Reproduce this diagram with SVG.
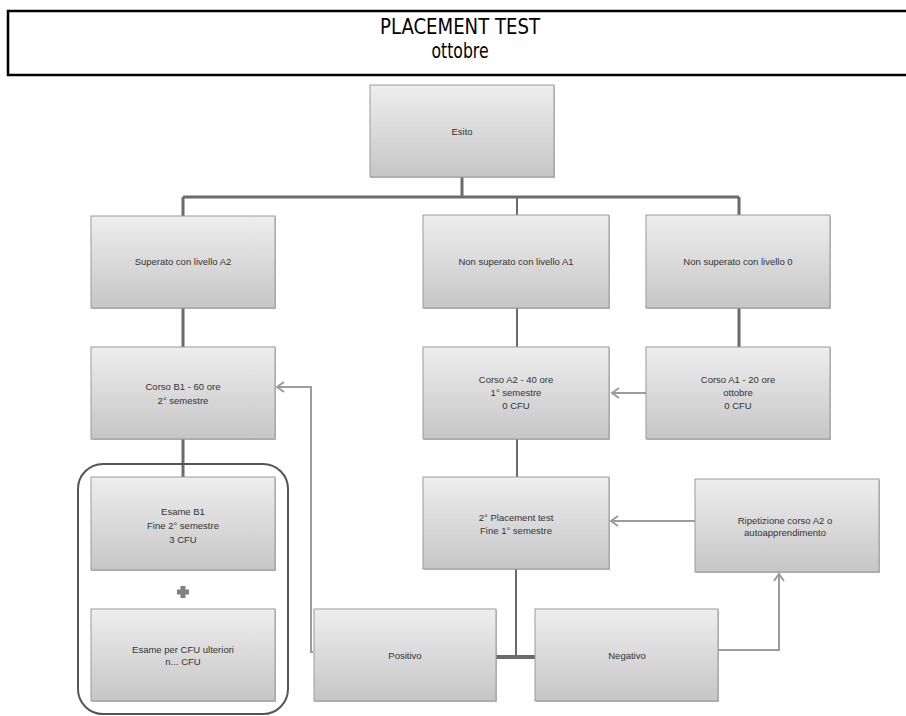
<svg xmlns="http://www.w3.org/2000/svg" width="906" height="716" viewBox="0 0 906 716">
<style>
.box{fill:url(#g);stroke:#9a9a9a;stroke-width:1}
.sh{fill:#8a8a8a;opacity:0.55}
.t{font-family:"Liberation Sans",Arial,sans-serif;font-size:9.5px;fill:#333;text-anchor:middle}
.title{font-family:"DejaVu Sans","Liberation Sans",sans-serif;font-size:21px;fill:#000;text-anchor:middle}
.tree{stroke:#6b6b6b;fill:none}
.arr{stroke:#9c9c9c;stroke-width:2;fill:none;marker-end:url(#ah)}
</style>
<defs>
<linearGradient id="g" x1="0" y1="0" x2="0" y2="1">
<stop offset="0" stop-color="#eeeeee"/>
<stop offset="1" stop-color="#c6c6c6"/>
</linearGradient>
<marker id="ah" markerUnits="userSpaceOnUse" markerWidth="10" markerHeight="12" refX="8" refY="6" orient="auto" viewBox="0 0 10 12">
<path d="M1,1 L8,6 L1,11" fill="none" stroke="#9c9c9c" stroke-width="2"/>
</marker>
</defs>
<rect width="906" height="716" fill="#fff"/>
<g id="title">
<rect x="8" y="11" width="910" height="64" fill="none" stroke="#000" stroke-width="2.5"/>
<text class="title" x="460" y="34" textLength="160" lengthAdjust="spacingAndGlyphs">PLACEMENT TEST</text>
<text class="title" x="460" y="58" textLength="57" lengthAdjust="spacingAndGlyphs">ottobre</text>
</g>
<g id="connectors">
<path class="tree" stroke-width="3" d="M462,177 V197 M183,197 H739 M183,197 V216 M739,197 V215 M183,308 V347 M739,308 V347 M183,439 V477"/>
<path class="tree" stroke-width="2" d="M517,197 V215 M517,308 V347 M517,439 V477 M516,569 V657"/>
<path class="tree" stroke-width="4" d="M496,657 H535"/>
<path class="arr" d="M646,393 H612"/>
<path class="arr" d="M695,521 H611"/>
<path class="arr" d="M313,652 H311 V387 H277"/>
<path class="arr" d="M718,650 H779 V574"/>
</g>
<g id="group-esami">
<rect x="78" y="464" width="210" height="250" rx="25" ry="25" fill="none" stroke="#555" stroke-width="2"/>
<rect x="177" y="589.5" width="12" height="5" fill="#808080"/>
<rect x="180.5" y="586" width="5" height="12" fill="#808080"/>
</g>
<g id="esito">
<rect class="sh" x="371" y="86" width="184" height="92"/>
<rect class="box" x="370" y="85" width="184" height="92"/>
<text class="t" x="462" y="135">Esito</text>
</g>
<g id="superato">
<rect class="sh" x="92" y="217" width="184" height="92"/>
<rect class="box" x="91" y="216" width="184" height="92"/>
<text class="t" x="183" y="265">Superato con livello A2</text>
</g>
<g id="nonsuperato-a1">
<rect class="sh" x="424" y="216" width="186" height="93"/>
<rect class="box" x="423" y="215" width="186" height="93"/>
<text class="t" x="516" y="265">Non superato con livello  A1</text>
</g>
<g id="nonsuperato-0">
<rect class="sh" x="647" y="216" width="184" height="93"/>
<rect class="box" x="646" y="215" width="184" height="93"/>
<text class="t" x="738" y="265">Non superato con livello  0</text>
</g>
<g id="corso-b1">
<rect class="sh" x="92" y="348" width="184" height="92"/>
<rect class="box" x="91" y="347" width="184" height="92"/>
<text class="t" x="183" y="390">Corso B1 - 60 ore</text>
<text class="t" x="183" y="404">2° semestre</text>
</g>
<g id="corso-a2">
<rect class="sh" x="424" y="348" width="186" height="92"/>
<rect class="box" x="423" y="347" width="186" height="92"/>
<text class="t" x="516" y="383">Corso A2 - 40 ore</text>
<text class="t" x="516" y="396">1° semestre</text>
<text class="t" x="516" y="409">0 CFU</text>
</g>
<g id="corso-a1">
<rect class="sh" x="647" y="348" width="184" height="92"/>
<rect class="box" x="646" y="347" width="184" height="92"/>
<text class="t" x="738" y="383">Corso A1 - 20 ore</text>
<text class="t" x="738" y="396">ottobre</text>
<text class="t" x="738" y="409">0 CFU</text>
</g>
<g id="esame-b1">
<rect class="sh" x="92" y="478" width="184" height="93"/>
<rect class="box" x="91" y="477" width="184" height="93"/>
<text class="t" x="183" y="515">Esame B1</text>
<text class="t" x="183" y="529">Fine 2° semestre</text>
<text class="t" x="183" y="543">3 CFU</text>
</g>
<g id="esame-cfu">
<rect class="sh" x="92" y="610" width="184" height="92"/>
<rect class="box" x="91" y="609" width="184" height="92"/>
<text class="t" x="183" y="653">Esame per CFU ulteriori</text>
<text class="t" x="183" y="665">n... CFU</text>
</g>
<g id="placement-2">
<rect class="sh" x="424" y="478" width="186" height="92"/>
<rect class="box" x="423" y="477" width="186" height="92"/>
<text class="t" x="516" y="521">2° Placement test</text>
<text class="t" x="516" y="534">Fine 1° semestre</text>
</g>
<g id="ripetizione">
<rect class="sh" x="696" y="480" width="184" height="93"/>
<rect class="box" x="695" y="479" width="184" height="93"/>
<text class="t" x="785" y="524">Ripetizione corso A2 o</text>
<text class="t" x="785" y="536">autoapprendimento</text>
</g>
<g id="positivo">
<rect class="sh" x="315" y="610" width="182" height="92"/>
<rect class="box" x="314" y="609" width="182" height="92"/>
<text class="t" x="405" y="659">Positivo</text>
</g>
<g id="negativo">
<rect class="sh" x="536" y="610" width="183" height="92"/>
<rect class="box" x="535" y="609" width="183" height="92"/>
<text class="t" x="627" y="659">Negativo</text>
</g>
</svg>
